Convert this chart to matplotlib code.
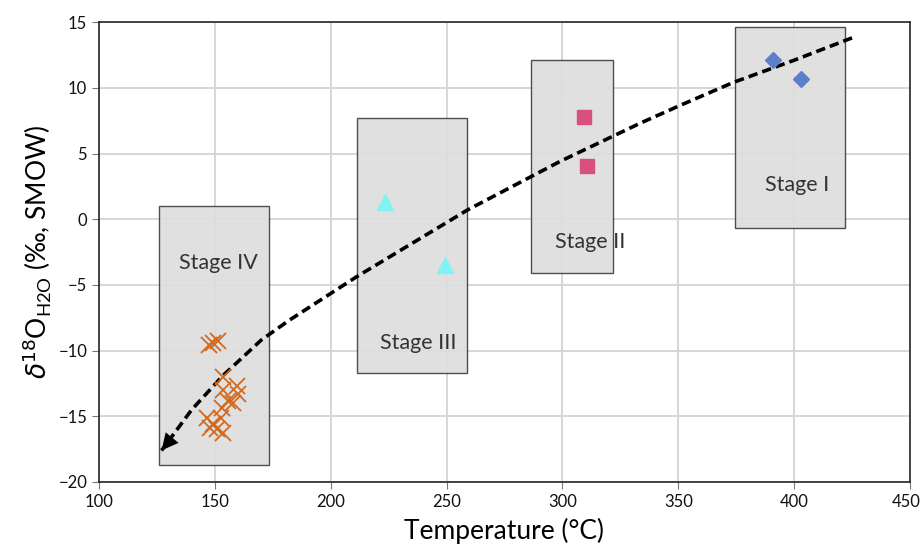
import numpy as np
import matplotlib
matplotlib.use("Agg")
import matplotlib.pyplot as plt
import matplotlib.transforms as mtransforms
from matplotlib.patches import Rectangle

plt.rcParams['font.family'] = ['Lato', 'DejaVu Sans']
plt.rcParams['mathtext.fontset'] = 'dejavusans'

# stage boxes: (xmin, xmax, ymin, ymax)
stage_names = ["Stage I", "Stage II", "Stage III", "Stage IV"]
stage_boxes = [(374.5, 422.0, -0.7, 14.6),
               (286.4, 321.8, -4.1, 12.1),
               (211.3, 258.8, -11.7, 7.7),
               (125.9, 173.4, -18.7, 1.0)]
stage_label_xy = [(401.2, 2.6), (311.9, -1.7), (237.7, -9.4), (151.4, -3.35)]

# measured points
s1_t = [390.9, 402.8]
s1_d = [12.1, 10.7]
s2_t = [309.3, 310.5]
s2_d = [7.75, 4.06]
s3_t = [223.4, 249.3]
s3_d = [1.3, -3.45]
s4_t = [149.2, 151.4, 147.5, 153.5, 159.5, 160.0, 153.5, 155.5, 158.0, 153.0,
        146.5, 152.5, 149.0, 151.0, 153.5, 148.0]
s4_d = [-9.4, -9.3, -9.6, -12.0, -12.7, -13.3, -13.0, -13.8, -14.0, -14.4,
        -15.1, -15.1, -15.6, -16.0, -16.3, -15.9]

# cooling trend curve
curve_t = [425, 400, 373.6, 350, 333.5, 299, 259, 211, 182, 170, 153.5, 140, 127]
curve_d = [13.8, 12.1, 10.4, 8.6, 7.3, 4.4, 0.7, -4.4, -7.7, -9.2, -11.9, -14.5, -17.6]

fig = plt.figure(figsize=(9.21, 5.53), dpi=100)
ax = fig.add_axes([0.1075, 0.1284, 0.8805, 0.8316])

for (x0, x1, y0, y1) in stage_boxes:
    ax.add_patch(Rectangle((x0, y0), x1 - x0, y1 - y0, facecolor='#dedede',
                           edgecolor='#404040', lw=1.0, alpha=0.92, zorder=2))
for name, (lx, ly) in zip(stage_names, stage_label_xy):
    ax.text(lx, ly, name, ha='center', va='center', fontsize=15.5, color='#333333', zorder=3)

ax.plot(curve_t, curve_d, linestyle=(0, (2.6, 1.4)), color='k', lw=2.6, zorder=4)
ax.annotate('', xy=(curve_t[-1], curve_d[-1]), xytext=(curve_t[-3], curve_d[-3]),
            arrowprops=dict(arrowstyle='-|>', color='k', lw=0, mutation_scale=30,
                            shrinkA=0, shrinkB=0), zorder=5)

ax.plot(s1_t, s1_d, linestyle='none', marker='D', ms=8, color='#5b7fc8', zorder=5)
ax.plot(s2_t, s2_d, linestyle='none', marker='s', ms=10, color='#d9507f', zorder=5)
ax.plot(s3_t, s3_d, linestyle='none', marker='^', ms=11, color='#80f4f4', zorder=5)
ax.plot(s4_t, s4_d, linestyle='none', marker='x', ms=12, mew=1.3, color='#d2691e', zorder=5)

ax.set_xlim(100, 450)
ax.set_ylim(-20, 15)
ax.set_xticks(np.arange(100, 451, 50))
ax.set_yticks(np.arange(-20, 16, 5))
ax.grid(True, color='#d6d6d6', lw=1.4, zorder=0)
ax.set_axisbelow(True)
for sp in ax.spines.values():
    sp.set_color('#262626')
    sp.set_linewidth(1.2)
ax.tick_params(direction='out', length=5, color='#777777', labelsize=12, labelcolor='#111111')

# nudge the last x tick label so it stays inside the figure
lbl = ax.get_xticklabels()[-1]
lbl.set_transform(lbl.get_transform() + mtransforms.ScaledTranslation(-4/100, 0, fig.dpi_scale_trans))

ax.set_xlabel('Temperature (°C)', fontsize=19, labelpad=6)
ax.set_ylabel(r'$\it{\delta}$$^{18}$O$_{\mathregular{H2O}}$ (‰, SMOW)', fontsize=19, labelpad=4)

fig.savefig('out.png', dpi=100)
